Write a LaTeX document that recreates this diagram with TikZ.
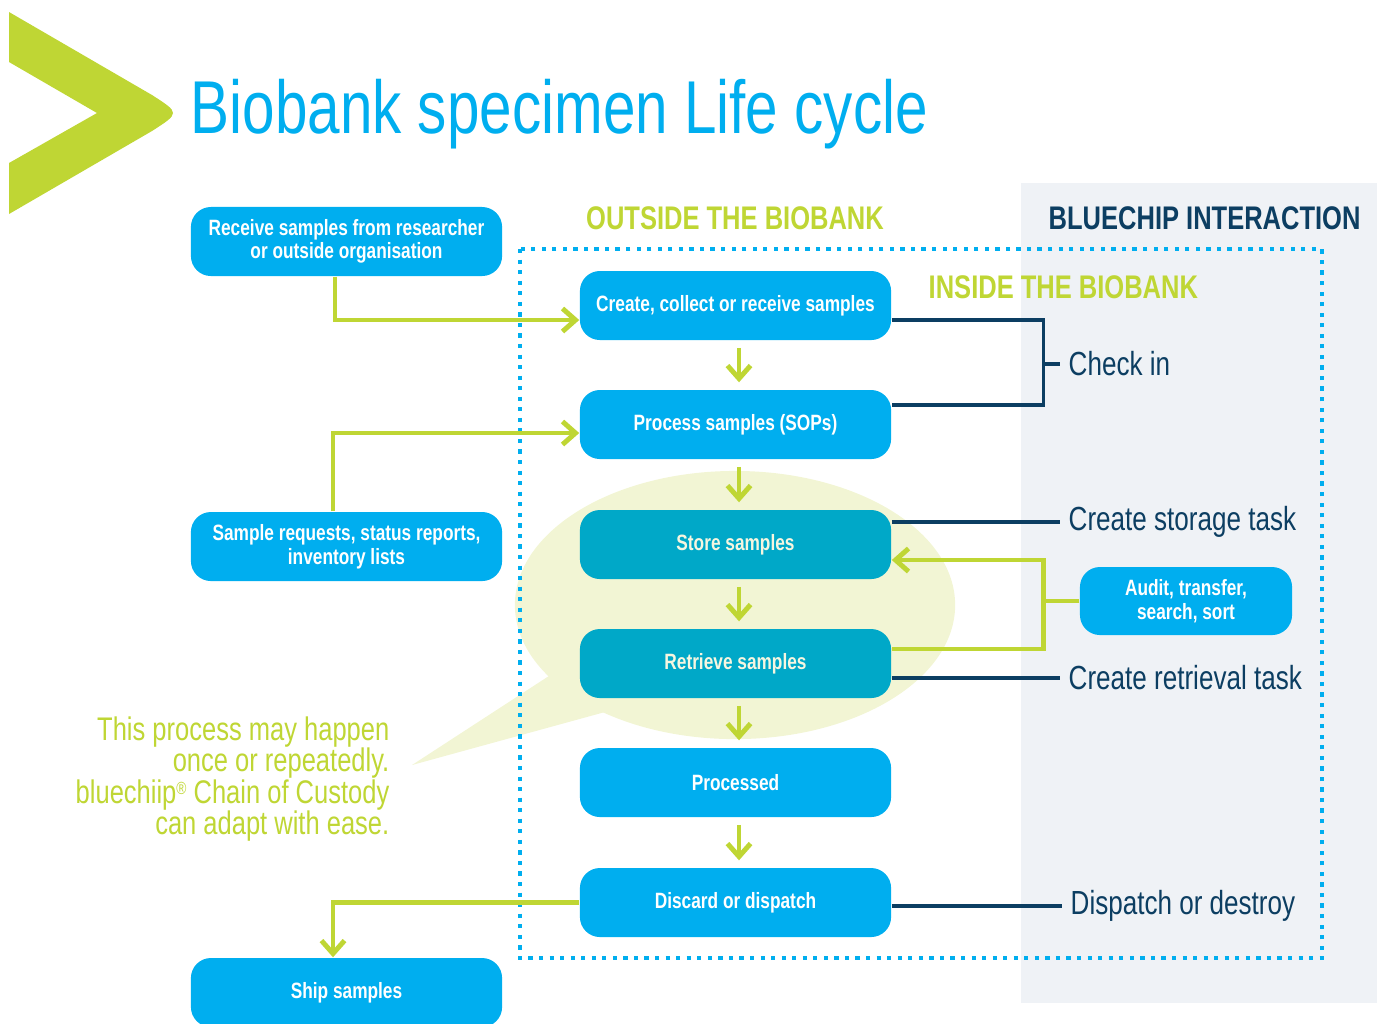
\documentclass[tikz,border=0pt]{standalone}
\usepackage{fontspec}
\setmainfont{Liberation Sans}
\newfontfamily\condensed[FakeStretch=0.78]{Liberation Sans}
\usetikzlibrary{arrows.meta,calc}

\definecolor{bbblue}{RGB}{0,174,239}
\definecolor{bbteal}{RGB}{0,168,200}
\definecolor{bbgreen}{RGB}{191,214,52}
\definecolor{bbnavy}{RGB}{12,62,98}
\definecolor{bbpanel}{RGB}{239,242,246}
\definecolor{bbhaze}{RGB}{242,245,212}
\definecolor{bbcream}{RGB}{246,246,224}

\tikzset{
  stagebox/.style={rectangle, rounded corners=0.2cm, fill=bbblue, text=white,
    minimum width=3.11cm, minimum height=0.69cm, align=center, inner sep=0pt,
    font=\condensed\bfseries\fontsize{6.3}{6.7}\selectfont},
  storebox/.style={stagebox, fill=bbteal, text=bbcream},
  flow/.style={bbgreen, line width=1.4pt, -{Straight Barb[length=1.3mm,width=2.3mm]}},
  link/.style={bbgreen, line width=1.4pt},
  tick/.style={bbnavy, line width=0.9pt},
  task/.style={anchor=west, text=bbnavy, inner xsep=0.08cm, inner ysep=0pt,
    font=\condensed\fontsize{9.5}{10}\selectfont},
  heading/.style={inner sep=0pt, font=\condensed\bfseries\fontsize{9.3}{10}\selectfont}
}

\begin{document}
\begin{tikzpicture}[x=0.01cm,y=-0.01cm]
  \useasboundingbox (0,0) rectangle (1377,1023);

  % panel behind the bluechip column
  \fill[bbpanel] (1021,183) rectangle (1377,1003);

  % chevron logo
  \fill[bbgreen] (9,12) -- (152,95) .. controls (180,113) .. (152,131)
    -- (9,214) -- (9,163) -- (97,113) -- (9,62) -- cycle;

  % title
  \node[anchor=base west, inner sep=0pt, text=bbblue,
    font=\condensed\fontsize{21.3}{24}\selectfont] (title) at (190,133)
    {Biobank specimen Life cycle};

  % speech bubble for the store/retrieve loop
  \fill[bbhaze] (735,605) ellipse [x radius=2.2cm, y radius=1.34cm];
  \fill[bbhaze] (555,672) -- (412,765) -- (605,712) -- cycle;

  % inside the biobank (dotted frame)
  \draw[bbblue, line width=1.2pt, dash pattern=on 1.2pt off 1.8pt]
    (520,249) rectangle (1322,958);

  % headings
  \node[heading, text=bbgreen] (outside) at (735,218) {OUTSIDE THE BIOBANK};
  \node[heading, text=bbgreen, anchor=west] (inside) at (928,287) {INSIDE THE BIOBANK};
  \node[heading, text=bbnavy, anchor=west] (bluechip) at (1048,218) {BLUECHIP INTERACTION};

  % main stages
  \node[stagebox] (create) at (735.5,305.5) {Create, collect or receive samples};
  \node[stagebox] (process) at (735.5,424.5) {Process samples (SOPs)};
  \node[storebox] (store) at (735.5,544.5) {Store samples};
  \node[storebox] (retrieve) at (735.5,663.5) {Retrieve samples};
  \node[stagebox] (processed) at (735.5,782.5) {Processed};
  \node[stagebox] (discard) at (735.5,902.5) {Discard or dispatch};

  % outside boxes
  \node[stagebox] (recv) at (346.5,241.5) {Receive samples from researcher\\or outside organisation};
  \node[stagebox] (requests) at (346.5,546.5) {Sample requests, status reports,\\inventory lists};
  \node[stagebox] (ship) at (346.5,992.5) {Ship samples};
  \node[stagebox, minimum width=2.12cm, minimum height=0.68cm] (audit) at (1186,601)
    {Audit, transfer,\\search, sort};

  % flow down the middle
  \foreach \a/\b in {create/process, process/store, store/retrieve,
                     retrieve/processed, processed/discard}
    \draw[flow, shorten <=0.07cm, shorten >=0.07cm]
      ([xshift=0.035cm]\a.south) -- ([xshift=0.035cm]\b.north);

  % in and out of the biobank
  \draw[flow] ([xshift=-0.115cm]recv.south) |- ([yshift=-0.145cm]create.west);
  \draw[flow] ([xshift=-0.135cm]requests.north) |- ([yshift=-0.085cm]process.west);
  \draw[flow] (discard.west) -| ([xshift=-0.135cm]ship.north);

  % audit loop back into storage
  \draw[flow] ([yshift=0.145cm]retrieve.east) -- ++(152,0)
    |- ([yshift=-0.155cm]store.east);
  \draw[link] (audit.west) -- ++(-37,0);

  % bluechip interaction labels
  \coordinate (bar) at (1043,364);
  \node[task] (checkin) at (1060,364) {Check in};
  \node[task] (storetask) at (1060,522) {Create storage task};
  \node[task] (fetchtask) at (1060,678) {Create retrieval task};
  \node[task] (dispatch) at (1062,906) {Dispatch or destroy};

  \draw[tick] ([yshift=-0.145cm]create.east) -- ++(152,0)
    |- ([yshift=0.195cm]process.east);
  \draw[tick] (bar) -- (checkin.west);
  \draw[tick] (store.east |- storetask.west) -- (storetask.west);
  \draw[tick] (retrieve.east |- fetchtask.west) -- (fetchtask.west);
  \draw[tick] (discard.east |- dispatch.west) -- (dispatch.west);

  % note beside the bubble
  \node[anchor=north east, align=right, inner sep=0pt, text=bbgreen,
    font=\condensed\fontsize{9.3}{8.9}\selectfont] (note) at (390,716)
    {This process may happen\\once or repeatedly.\\
     bluechiip{\fontsize{5}{5}\selectfont\raisebox{0.9ex}{®}} Chain of Custody\\can adapt with ease.};
\end{tikzpicture}
\end{document}
